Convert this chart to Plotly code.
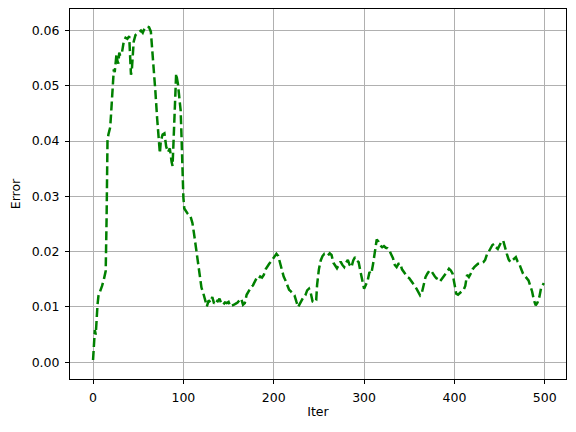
import plotly.graph_objects as go

iters = [0, 1, 2, 3, 4, 5, 6, 8, 10, 12, 14, 15, 16, 17, 18, 19, 20, 21, 22, 23,
         24, 25, 26, 27, 28, 29, 30, 32, 34, 36, 38, 40, 41, 42, 43, 44, 45, 47, 50, 53,
         55, 57, 60, 62, 64, 66, 67, 69, 71, 73, 74, 75, 77, 79, 81, 83, 85, 87, 88, 89,
         90, 91, 92, 94, 95, 97, 98, 99, 100, 101, 103, 105, 108, 110, 112, 114, 116, 118, 120, 122,
         124, 126, 128, 130, 132, 134, 136, 138, 140, 142, 144, 146, 148, 150, 152, 154, 156, 158, 160, 162,
         164, 166, 168, 170, 172, 175, 177, 179, 181, 183, 185, 187, 189, 191, 193, 195, 197, 199, 201, 203,
         205, 207, 209, 211, 213, 215, 217, 219, 221, 223, 225, 227, 229, 231, 233, 235, 237, 239, 241, 243,
         245, 247, 248, 250, 252, 254, 256, 258, 260, 262, 264, 266, 268, 270, 272, 274, 276, 278, 280, 282,
         284, 286, 288, 290, 292, 294, 296, 298, 300, 302, 304, 306, 308, 310, 312, 314, 316, 318, 320, 322,
         324, 326, 328, 330, 332, 334, 336, 338, 340, 342, 344, 346, 348, 350, 352, 354, 356, 358, 360, 362,
         364, 366, 368, 370, 372, 374, 376, 378, 380, 382, 384, 386, 388, 390, 392, 394, 396, 398, 400, 402,
         404, 406, 408, 410, 412, 414, 416, 418, 420, 422, 424, 426, 428, 430, 432, 434, 436, 438, 440, 442,
         444, 446, 448, 450, 452, 454, 456, 458, 460, 462, 464, 466, 468, 470, 472, 474, 476, 478, 480, 482,
         484, 486, 488, 490, 492, 494, 496, 499]

errors = [0.0004, 0.0035, 0.0058, 0.0050, 0.0085, 0.0105, 0.0120, 0.0128, 0.0138, 0.0150,
          0.0165, 0.0260, 0.0400, 0.0412, 0.0418, 0.0425, 0.0450, 0.0480, 0.0500, 0.0530,
          0.0525, 0.0550, 0.0558, 0.0545, 0.0540, 0.0560, 0.0555, 0.0560, 0.0580, 0.0587,
          0.0585, 0.0590, 0.0560, 0.0520, 0.0530, 0.0550, 0.0580, 0.0592, 0.0596, 0.0600,
          0.0596, 0.0604, 0.0607, 0.0606, 0.0598, 0.0560, 0.0536, 0.0490, 0.0440, 0.0400,
          0.0378, 0.0400, 0.0412, 0.0414, 0.0390, 0.0380, 0.0387, 0.0362, 0.0355, 0.0395,
          0.0440, 0.0480, 0.0522, 0.0503, 0.0485, 0.0455, 0.0405, 0.0340, 0.0298, 0.0278,
          0.0272, 0.0268, 0.0263, 0.0252, 0.0230, 0.0205, 0.0178, 0.0155, 0.0135, 0.0125,
          0.0113, 0.0101, 0.0112, 0.0108, 0.0118, 0.0106, 0.0112, 0.0110, 0.0115, 0.0106,
          0.0104, 0.0108, 0.0107, 0.0109, 0.0101, 0.0102, 0.0104, 0.0106, 0.0108, 0.0112,
          0.0115, 0.0104, 0.0107, 0.0122, 0.0128, 0.0136, 0.0139, 0.0146, 0.0152, 0.0150,
          0.0155, 0.0153, 0.0158, 0.0168, 0.0174, 0.0178, 0.0182, 0.0187, 0.0191, 0.0196,
          0.0192, 0.0178, 0.0168, 0.0155, 0.0148, 0.0140, 0.0131, 0.0128, 0.0124, 0.0121,
          0.0110, 0.0100, 0.0106, 0.0112, 0.0118, 0.0121, 0.0130, 0.0133, 0.0125, 0.0110,
          0.0108, 0.0112, 0.0140, 0.0168, 0.0184, 0.0192, 0.0196, 0.0194, 0.0193, 0.0197,
          0.0194, 0.0180, 0.0174, 0.0170, 0.0176, 0.0182, 0.0176, 0.0172, 0.0180, 0.0185,
          0.0176, 0.0172, 0.0184, 0.0190, 0.0184, 0.0181, 0.0164, 0.0145, 0.0133, 0.0140,
          0.0148, 0.0163, 0.0160, 0.0178, 0.0205, 0.0222, 0.0218, 0.0211, 0.0208, 0.0210,
          0.0207, 0.0206, 0.0202, 0.0196, 0.0188, 0.0176, 0.0172, 0.0178, 0.0179, 0.0168,
          0.0163, 0.0157, 0.0154, 0.0152, 0.0148, 0.0143, 0.0138, 0.0133, 0.0128, 0.0121,
          0.0126, 0.0140, 0.0154, 0.0160, 0.0165, 0.0166, 0.0160, 0.0156, 0.0152, 0.0150,
          0.0146, 0.0150, 0.0154, 0.0158, 0.0164, 0.0169, 0.0166, 0.0160, 0.0145, 0.0124,
          0.0122, 0.0126, 0.0128, 0.0130, 0.0138, 0.0158, 0.0154, 0.0160, 0.0168, 0.0172,
          0.0176, 0.0178, 0.0178, 0.0180, 0.0181, 0.0185, 0.0195, 0.0200, 0.0207, 0.0212,
          0.0214, 0.0208, 0.0205, 0.0212, 0.0218, 0.0220, 0.0206, 0.0196, 0.0186, 0.0181,
          0.0184, 0.0188, 0.0190, 0.0182, 0.0177, 0.0168, 0.0160, 0.0156, 0.0152, 0.0148,
          0.0138, 0.0128, 0.0112, 0.0103, 0.0108, 0.0118, 0.0135, 0.0143]

x_ticks = [0, 100, 200, 300, 400, 500]
y_ticks = [0.00, 0.01, 0.02, 0.03, 0.04, 0.05, 0.06]
x_label = "Iter"
y_label = "Error"

fig = go.Figure()
fig.add_trace(go.Scatter(
    x=iters, y=errors, mode="lines",
    line=dict(color="#008000", width=2.5, dash="9px,4px"),
    showlegend=False,
))

font = dict(family="DejaVu Sans", size=12.5, color="black")
axis_common = dict(
    showline=True, linecolor="black", linewidth=1, mirror=True,
    showgrid=True, gridcolor="#b0b0b0", gridwidth=1,
    ticks="outside", ticklen=4, tickwidth=1, tickcolor="black",
    zeroline=False, tickfont=font, automargin=False,
    ticklabelstandoff=3,
)
fig.update_xaxes(range=[-25.5, 523.5], tickvals=x_ticks,
                 title=dict(text=x_label, font=font, standoff=3), **axis_common)
fig.update_yaxes(range=[-0.00304, 0.0639], tickvals=y_ticks, tickformat=".2f",
                 title=dict(text=y_label, font=font, standoff=10), **axis_common)
# the page body has an 8px margin, so the figure is sized to fit inside it
fig.update_layout(
    width=560, height=416,
    margin=dict(l=62, r=2, t=1, b=45),
    paper_bgcolor="white", plot_bgcolor="white",
    font=font,
)
fig.write_html("out.html", config={"displayModeBar": False})
